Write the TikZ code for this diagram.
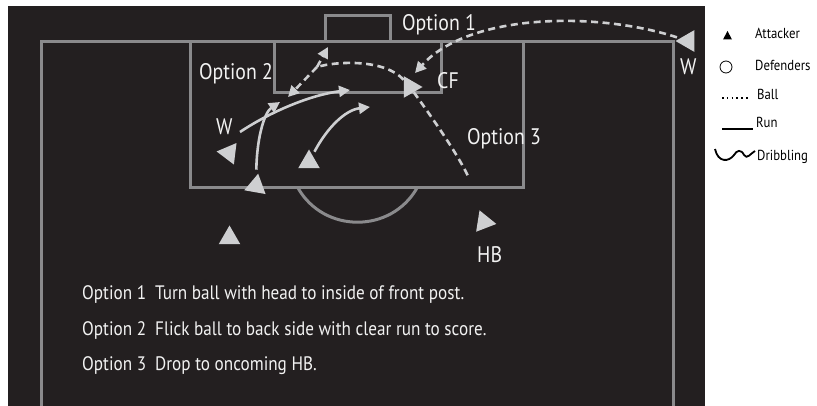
\documentclass[tikz,border=0pt]{standalone}
\usepackage{fontspec}
\setmainfont{PT Sans}[FakeStretch=0.88]
\usetikzlibrary{arrows.meta,positioning,shapes.geometric}
\definecolor{pitchbg}{RGB}{35,31,32}
\definecolor{pitchline}{RGB}{138,138,140}
\definecolor{playergray}{RGB}{206,207,209}
\definecolor{labelwhite}{RGB}{242,242,242}

\begin{document}
\begin{tikzpicture}[
    x=1pt, y=-1pt,
    pline/.style={
        pitchline,
        line width=3pt
    },
    player/.style={
        regular polygon,
        regular polygon sides=3,
        fill=playergray,
        inner sep=0pt,
        minimum size=25pt
    },
    run/.style={
        -{Triangle[length=11pt,width=11pt]},
        playergray,
        line width=2.6pt
    },
    ball/.style={
        playergray,
        line width=2.6pt,
        dash pattern=on 7pt off 4.5pt
    },
    balltip/.style={
        ball,
        -{Triangle[length=11pt,width=11pt]}
    },
    lbl/.style={
        labelwhite,
        font=\fontsize{22.5}{22.5}\selectfont,
        inner sep=0pt,
        anchor=base west
    },
    note/.style={
        labelwhite,
        font=\fontsize{19.5}{19.5}\selectfont,
        inner sep=0pt,
        anchor=base west
    },
    key/.style={
        black,
        font=\fontsize{14.5}{14.5}\selectfont,
        inner sep=0pt,
        anchor=base west
    }
]
\useasboundingbox (0,0) rectangle (817,406);

% Pitch
\fill[pitchbg] (8,6) rectangle (705,406);
\draw[pline] (41,406) -- (41,42) -- (673,42) -- (673,406);
\draw[pline] (190,42) -- (190,188) -- (523,188) -- (523,42);
\draw[pline] (274,42) -- (274,93) -- (441,93) -- (441,42);
\draw[pline] (325,42) -- (325,16) -- (390,16) -- (390,42);
\draw[pline] (298,188) .. controls (324,233.6) and (391,233.6) .. (417,188);

% Players
\node[player, shape border rotate=90] (wr) at (688,41) {};
\node[player, shape border rotate=-90] (cf) at (410,87) {};
\node[player, shape border rotate=83] (wl) at (229,153) {};
\node[player] (cm) at (309,162) {};
\node[player, shape border rotate=-10] (ar) at (256,186) {};
\node[player] (ab) at (229.5,238) {};
\node[player, shape border rotate=-99] (hb) at (484,222) {};

% Labels
\node[lbl] (wrlabel) at (680,75) {W};
\node[lbl] (cflabel) at (437,89) {CF};
\node[lbl] (wllabel) at (216,135) {W};
\node[lbl] (hblabel) at (477,263) {HB};
\node[lbl] (opt1) at (402,31) {Option 1};
\node[lbl] (opt2) at (199,80) {Option 2};
\node[lbl] (opt3) at (467,145) {Option 3};

% Free ends
\coordinate (cross) at (415,73);
\coordinate (split) at (317,67);
\coordinate (nearpost) at (328,47);
\coordinate (backpost) at (288,97);
\coordinate (drop) at (468,176);
\coordinate (wlstart) at (240,132);
\coordinate (wlend) at (350,90);
\coordinate (arend) at (280,102);
\coordinate (cmend) at (370,107);

% Ball
\draw[balltip, shorten <=3pt] (wr) .. controls +(-88,-29) and +(55,-61) .. (cross);
\draw[ball] (cf) .. controls +(-25,-28) and +(20,-6) .. (split);
\draw[balltip] (split) -- (nearpost);
\draw[balltip] (split) -- (backpost);
\draw[ball] (cf) .. controls +(18,25) and +(-12,-25) .. (drop);

% Runs
\draw[run] (wlstart) .. controls +(30,-20) and +(-40,5) .. (wlend);
\draw[run, shorten <=6pt] (ar) .. controls +(1,-51) and +(-15,10) .. (arend);
\draw[run, shorten <=4pt] (cm) .. controls +(18,-34) and +(-25,3) .. (cmend);

% Options
\node[note] (note1) at (82,300) {Option 1\hspace{9pt}Turn ball with head to inside of front post.};
\node[note] (note2) at (82,335) {Option 2\hspace{9pt}Flick ball to back side with clear run to score.};
\node[note] (note3) at (82,370) {Option 3\hspace{9pt}Drop to oncoming HB.};

% Key
\fill[black] (727.5,31) -- (732,39.5) -- (723,39.5) -- cycle;
\draw[black, line width=0.8pt] (726,67) circle[radius=6];
\draw[black, line width=1.5pt, dash pattern=on 1.5pt off 3.3pt] (722,98) -- (748,98);
\draw[black, line width=1.8pt] (722,129) -- (753,129);
\draw[black, line width=1.8pt] (715,149) .. controls (718,163) and (729,162) .. (734,155)
    .. controls (737,150) and (741,149) .. (744,155)
    .. controls (747,160) and (751,153) .. (755,151);
\node[key] (kattacker) at (755,39) {Attacker};
\node[key] (kdefenders) at (755,71) {Defenders};
\node[key] (kball) at (757,100) {Ball};
\node[key] (krun) at (756,128) {Run};
\node[key] (kdribbling) at (757,161) {Dribbling};

\end{tikzpicture}
\end{document}
